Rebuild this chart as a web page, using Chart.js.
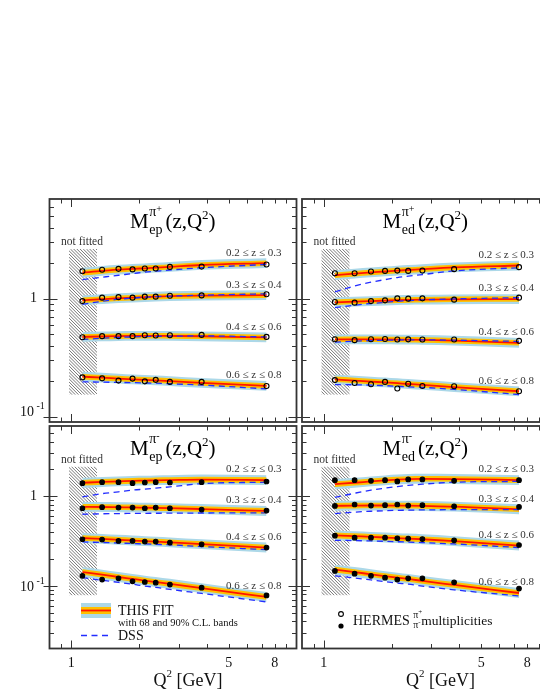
<!DOCTYPE html>
<html>
<head>
<meta charset="utf-8">
<script src="https://cdn.jsdelivr.net/npm/chart.js@4.4.1/dist/chart.umd.min.js"></script>
<style>
  html, body { margin: 0; padding: 0; background: #fff; overflow: hidden; }
  #wrap { position: relative; width: 540px; height: 699px; overflow: hidden; background: #fff; }
  #wrap canvas { position: absolute; left: 0; top: 0; }
</style>
</head>
<body>
<div id="wrap">
  <canvas id="epPlus" width="560" height="699"></canvas>
  <canvas id="edPlus" width="560" height="699"></canvas>
  <canvas id="epMinus" width="560" height="699"></canvas>
  <canvas id="edMinus" width="560" height="699"></canvas>
</div>
<script>
'use strict';

// Q^2 of the HERMES bins (GeV^2)
let qBins = [1.12, 1.37, 1.62, 1.87, 2.12, 2.37, 2.74, 3.79, 7.36];
let zBins = ['0.2 \u2264 z \u2264 0.3', '0.3 \u2264 z \u2264 0.4', '0.4 \u2264 z \u2264 0.6', '0.6 \u2264 z \u2264 0.8'];

// axis ticks
let xTicks = [0.9, 1, 2, 3, 4, 5, 6, 7, 8, 9];
let xTickLabels = [1, 5, 8];
let yTicksTop = [0.09, 0.1, 0.2, 0.3, 0.4, 0.5, 0.6, 0.7, 0.8, 0.9, 1, 2, 3, 4, 5, 6, 7];
let yTicksBottom = [0.02, 0.03, 0.04, 0.05, 0.06, 0.07, 0.08, 0.09, 0.1, 0.2, 0.3, 0.4, 0.5, 0.6, 0.7, 0.8, 0.9, 1, 2, 3, 4, 5, 6];
let yMajor = [0.1, 1];

// region excluded from the fit
let notFittedQ = [0.977, 1.3];
let notFittedTop = [0.153, 2.64];
let notFittedBottom = [0.078, 2.12];

// relative width of the 68% and 90% C.L. bands
let bandTop = [0.055, 0.10];
let bandBottom = [0.075, 0.135];

// proton, pi+
let epPlusData = [
  [1.71, 1.76, 1.79, 1.77, 1.80, 1.80, 1.86, 1.87, 1.95],
  [0.954, 1.02, 1.03, 1.02, 1.04, 1.04, 1.06, 1.066, 1.09],
  [0.471, 0.481, 0.481, 0.481, 0.490, 0.487, 0.490, 0.493, 0.474],
  [0.215, 0.211, 0.202, 0.210, 0.199, 0.205, 0.197, 0.197, 0.182]
];
let epPlusFit = [
  [1.66, 1.72, 1.76, 1.79, 1.81, 1.83, 1.86, 1.93, 2.00],
  [0.968, 0.99, 1.01, 1.02, 1.03, 1.04, 1.05, 1.06, 1.07],
  [0.474, 0.478, 0.481, 0.483, 0.484, 0.484, 0.483, 0.480, 0.469],
  [0.218, 0.214, 0.210, 0.207, 0.205, 0.203, 0.200, 0.193, 0.182]
];
let epPlusDss = [
  [1.45, 1.52, 1.58, 1.63, 1.68, 1.71, 1.75, 1.83, 1.95],
  [0.895, 0.95, 0.99, 1.01, 1.03, 1.04, 1.05, 1.07, 1.10],
  [0.451, 0.462, 0.469, 0.474, 0.477, 0.479, 0.481, 0.483, 0.474],
  [0.197, 0.196, 0.195, 0.194, 0.193, 0.192, 0.190, 0.185, 0.172]
];

// deuteron, pi+
let edPlusData = [
  [1.644, 1.644, 1.70, 1.72, 1.73, 1.72, 1.73, 1.78, 1.85],
  [0.936, 0.925, 0.954, 0.968, 1.006, 1.0, 1.006, 0.981, 1.02],
  [0.453, 0.445, 0.453, 0.455, 0.451, 0.452, 0.450, 0.451, 0.439],
  [0.204, 0.193, 0.188, 0.197, 0.173, 0.190, 0.182, 0.181, 0.164]
];
let edPlusFit = [
  [1.58, 1.63, 1.67, 1.70, 1.73, 1.75, 1.78, 1.84, 1.91],
  [0.931, 0.945, 0.955, 0.963, 0.970, 0.975, 0.980, 0.988, 0.992],
  [0.451, 0.452, 0.452, 0.451, 0.450, 0.449, 0.447, 0.440, 0.422],
  [0.207, 0.202, 0.198, 0.195, 0.192, 0.189, 0.186, 0.178, 0.164]
];
let edPlusDss = [
  [1.14, 1.28, 1.38, 1.45, 1.51, 1.55, 1.60, 1.72, 1.83],
  [0.84, 0.88, 0.91, 0.93, 0.95, 0.96, 0.975, 0.995, 1.02],
  [0.428, 0.436, 0.441, 0.444, 0.446, 0.447, 0.447, 0.445, 0.434],
  [0.187, 0.186, 0.185, 0.183, 0.181, 0.179, 0.177, 0.170, 0.154]
];

// proton, pi-
let epMinusData = [
  [1.386, 1.42, 1.42, 1.386, 1.41, 1.42, 1.41, 1.42, 1.447],
  [0.729, 0.748, 0.742, 0.742, 0.729, 0.742, 0.729, 0.705, 0.687],
  [0.329, 0.326, 0.315, 0.315, 0.310, 0.310, 0.302, 0.289, 0.266],
  [0.129, 0.117, 0.121, 0.112, 0.110, 0.108, 0.103, 0.095, 0.078]
];
let epMinusFit = [
  [1.40, 1.43, 1.45, 1.47, 1.48, 1.49, 1.50, 1.52, 1.50],
  [0.754, 0.752, 0.748, 0.745, 0.740, 0.736, 0.730, 0.714, 0.680],
  [0.340, 0.332, 0.325, 0.319, 0.314, 0.310, 0.304, 0.290, 0.266],
  [0.142, 0.133, 0.125, 0.119, 0.114, 0.110, 0.105, 0.094, 0.075]
];
let epMinusDss = [
  [0.975, 1.06, 1.11, 1.16, 1.19, 1.22, 1.26, 1.37, 1.42],
  [0.625, 0.632, 0.636, 0.638, 0.640, 0.641, 0.642, 0.645, 0.646],
  [0.307, 0.303, 0.299, 0.295, 0.292, 0.289, 0.285, 0.273, 0.252],
  [0.123, 0.115, 0.109, 0.104, 0.099, 0.096, 0.091, 0.082, 0.066]
];

// deuteron, pi-
let edMinusData = [
  [1.497, 1.497, 1.47, 1.497, 1.45, 1.524, 1.524, 1.47, 1.497],
  [0.773, 0.802, 0.781, 0.788, 0.802, 0.781, 0.788, 0.767, 0.754],
  [0.361, 0.343, 0.343, 0.343, 0.337, 0.335, 0.331, 0.320, 0.284],
  [0.146, 0.136, 0.129, 0.123, 0.117, 0.121, 0.121, 0.109, 0.093]
];
let edMinusFit = [
  [1.35, 1.40, 1.45, 1.49, 1.52, 1.54, 1.55, 1.54, 1.50],
  [0.775, 0.780, 0.782, 0.782, 0.780, 0.778, 0.773, 0.760, 0.710],
  [0.364, 0.356, 0.350, 0.344, 0.339, 0.335, 0.329, 0.314, 0.280],
  [0.151, 0.142, 0.134, 0.128, 0.123, 0.119, 0.113, 0.102, 0.083]
];
let edMinusDss = [
  [0.96, 1.07, 1.16, 1.22, 1.27, 1.31, 1.35, 1.42, 1.45],
  [0.636, 0.66, 0.675, 0.684, 0.690, 0.694, 0.698, 0.703, 0.705],
  [0.320, 0.318, 0.315, 0.312, 0.309, 0.306, 0.302, 0.292, 0.266],
  [0.129, 0.122, 0.116, 0.111, 0.107, 0.104, 0.099, 0.090, 0.077]
];

// colours
let blueBand = 'rgb(172,216,232)';
let orangeBand = 'rgb(255,192,0)';
let fitRed = 'rgb(255,20,0)';
let dssBlue = 'rgb(35,45,255)';
let frameCol = '#333';

let canvasW = 560;
let canvasH = 699;

function serif(size) {
  return size + 'px "Liberation Serif", "DejaVu Serif", serif';
}

// draw text pieces one after another: [text, size, dy]
function drawParts(ctx, x, y, parts) {
  for (let p of parts) {
    ctx.font = serif(p[1]);
    ctx.fillText(p[0], x, y + (p[2] || 0));
    x += ctx.measureText(p[0]).width;
  }
  return x;
}

function line(ctx, x1, y1, x2, y2) {
  ctx.beginPath();
  ctx.moveTo(x1, y1);
  ctx.lineTo(x2, y2);
  ctx.stroke();
}

function drawTitle(ctx, x, y, charge, target) {
  ctx.fillStyle = '#000';
  ctx.textAlign = 'left';
  ctx.textBaseline = 'alphabetic';
  ctx.font = serif(21);
  ctx.fillText('M', x, y);
  let sx = x + ctx.measureText('M').width + 0.5;
  ctx.font = serif(14);
  ctx.fillText('\u03c0', sx, y - 12);
  let pw = ctx.measureText('\u03c0').width;
  ctx.font = serif(10);
  ctx.fillText(charge, sx + pw, y - 16);
  let cw = ctx.measureText(charge).width;
  ctx.font = serif(14);
  ctx.fillText(target, sx, y + 6);
  let tw = ctx.measureText(target).width;
  drawParts(ctx, sx + Math.max(pw + cw, tw) + 3, y, [['(z,Q', 21], ['2', 13, -9], [')', 21]]);
}

let panelDecor = {
  id: 'panelDecor',
  beforeDatasetsDraw(chart, args, opts) {
    let ctx = chart.ctx;
    let x = chart.scales.x;
    let y = chart.scales.y;
    let x0 = x.getPixelForValue(notFittedQ[0]);
    let x1 = x.getPixelForValue(notFittedQ[1]);
    let y0 = y.getPixelForValue(opts.hatch[1]);
    let y1 = y.getPixelForValue(opts.hatch[0]);
    ctx.save();
    ctx.beginPath();
    ctx.rect(x0, y0, x1 - x0, y1 - y0);
    ctx.clip();
    ctx.strokeStyle = '#555';
    ctx.lineWidth = 0.8;
    let h = y1 - y0;
    for (let k = x0 - h; k < x1; k += 3.2) {
      line(ctx, k, y0, k + h, y1);
    }
    ctx.restore();

    ctx.save();
    ctx.fillStyle = '#333';
    ctx.font = serif(11.5);
    ctx.textAlign = 'center';
    ctx.fillText('not fitted', (x0 + x1) / 2 - 1, y0 - 3.5);
    ctx.restore();
  },
  afterDraw(chart, args, opts) {
    let ctx = chart.ctx;
    let a = chart.chartArea;
    let x = chart.scales.x;
    let y = chart.scales.y;
    ctx.save();

    // inward ticks on all four sides
    ctx.strokeStyle = frameCol;
    ctx.lineWidth = 1;
    for (let v of xTicks) {
      let px = Math.round(x.getPixelForValue(v)) + 0.5;
      let len = v === 1 ? 8 : 4.5;
      line(ctx, px, a.bottom, px, a.bottom - len);
      line(ctx, px, a.top, px, a.top + len);
    }
    for (let v of opts.yTicks) {
      let py = Math.round(y.getPixelForValue(v)) + 0.5;
      if (py < a.top + 1 || py > a.bottom - 1) continue;
      let major = yMajor.includes(v);
      let len = major ? 8 : 4.5;
      line(ctx, a.left - (major ? 6 : 0), py, a.left + len, py);
      line(ctx, a.right - len, py, a.right, py);
    }

    // frame
    ctx.lineWidth = 1.8;
    ctx.strokeRect(a.left, a.top, a.right - a.left, a.bottom - a.top);

    // axis labels
    ctx.fillStyle = '#111';
    if (opts.yLabels) {
      ctx.font = serif(14);
      ctx.textAlign = 'right';
      ctx.textBaseline = 'middle';
      ctx.fillText('1', 37, y.getPixelForValue(1));
      ctx.textAlign = 'left';
      ctx.textBaseline = 'alphabetic';
      let py = y.getPixelForValue(0.1) + opts.tenShift;
      drawParts(ctx, 20, py, [['10', 14], [' -1', 10, -7]]);
    }
    if (opts.xLabels) {
      ctx.font = serif(14);
      ctx.textAlign = 'center';
      ctx.textBaseline = 'alphabetic';
      for (let v of xTickLabels) {
        ctx.fillText(String(v), x.getPixelForValue(v), 667);
      }
      ctx.textAlign = 'left';
      drawParts(ctx, a.left + 104, 686, [['Q', 18], ['2', 11, -9], [' [GeV]', 18]]);
    }

    // title
    drawTitle(ctx, a.left + 80.5, a.top + 29, opts.charge, opts.target);

    // z-bin labels
    ctx.fillStyle = '#333';
    ctx.font = serif(11);
    ctx.textAlign = 'right';
    ctx.textBaseline = 'middle';
    for (let r = 0; r < zBins.length; r++) {
      let last = opts.fit[r][opts.fit[r].length - 1];
      ctx.fillText(zBins[r], a.right - 15, y.getPixelForValue(last) - 10.5);
    }

    // legends
    ctx.textAlign = 'left';
    ctx.textBaseline = 'alphabetic';
    ctx.fillStyle = '#111';
    if (opts.legend === 'fit') {
      ctx.fillStyle = blueBand;
      ctx.fillRect(81, 603, 30, 15);
      ctx.fillStyle = orangeBand;
      ctx.fillRect(81, 607, 30, 7);
      ctx.strokeStyle = fitRed;
      ctx.lineWidth = 1.8;
      line(ctx, 81, 610.5, 111, 610.5);
      ctx.strokeStyle = dssBlue;
      ctx.lineWidth = 1.3;
      ctx.setLineDash([6, 4.5]);
      line(ctx, 81, 635.5, 111, 635.5);
      ctx.setLineDash([]);
      ctx.fillStyle = '#111';
      ctx.font = serif(14);
      ctx.fillText('THIS FIT', 118, 615);
      ctx.font = serif(10.5);
      ctx.fillText('with 68 and 90% C.L. bands', 118, 626);
      ctx.font = serif(14);
      ctx.fillText('DSS', 118, 640);
    }
    if (opts.legend === 'data') {
      ctx.strokeStyle = '#000';
      ctx.lineWidth = 1.1;
      ctx.beginPath();
      ctx.arc(341, 614, 2.4, 0, Math.PI * 2);
      ctx.stroke();
      ctx.fillStyle = '#000';
      ctx.beginPath();
      ctx.arc(341, 626, 2.6, 0, Math.PI * 2);
      ctx.fill();
      ctx.fillStyle = '#111';
      let ex = drawParts(ctx, 353, 625, [['HERMES ', 14]]);
      ctx.font = serif(10);
      ctx.fillText('\u03c0', ex, 618);
      ctx.fillText('\u03c0', ex, 628);
      let pw = ctx.measureText('\u03c0').width;
      ctx.font = serif(7);
      ctx.fillText('+', ex + pw, 614);
      ctx.fillText('-', ex + pw, 624);
      drawParts(ctx, ex + pw + 3, 625, [['multiplicities', 13.5]]);
    }
    ctx.restore();
  }
};

function xy(vals) {
  return vals.map((v, i) => ({ x: qBins[i], y: v }));
}
function scaled(vals, f) {
  return vals.map((v, i) => ({ x: qBins[i], y: v * f }));
}

function buildDatasets(data, fit, dss, open, band) {
  let sets = [];
  let curve = {
    showLine: true, pointRadius: 0, cubicInterpolationMode: 'monotone',
    borderColor: 'rgba(0,0,0,0)', borderWidth: 1
  };
  for (let r = 0; r < data.length; r++) {
    sets.push(Object.assign({}, curve, { data: scaled(fit[r], 1 / (1 + band[1])), fill: false, order: 6 }));
    sets.push(Object.assign({}, curve, { data: scaled(fit[r], 1 + band[1]), fill: '-1', backgroundColor: blueBand, order: 6 }));
    sets.push(Object.assign({}, curve, { data: scaled(fit[r], 1 / (1 + band[0])), fill: false, order: 5 }));
    sets.push(Object.assign({}, curve, { data: scaled(fit[r], 1 + band[0]), fill: '-1', backgroundColor: orangeBand, order: 5 }));
    sets.push(Object.assign({}, curve, { data: xy(fit[r]), fill: false, borderColor: fitRed, borderWidth: 1.8, order: 3 }));
    sets.push(Object.assign({}, curve, { data: xy(dss[r]), fill: false, borderColor: dssBlue, borderWidth: 1.3, borderDash: [6, 4.5], order: 2 }));
    sets.push({
      data: xy(data[r]), showLine: false, fill: false, order: 1,
      pointRadius: open ? 2.5 : 2.3, pointBorderWidth: 1.1, pointBorderColor: '#000',
      pointBackgroundColor: open ? 'rgba(0,0,0,0)' : '#000'
    });
  }
  return sets;
}

function makePanel(id, area, yRange, data, fit, dss, decor) {
  let open = decor.charge === '+';
  let band = yRange[0] > 0.05 ? bandTop : bandBottom;
  return new Chart(document.getElementById(id), {
    type: 'line',
    data: { datasets: buildDatasets(data, fit, dss, open, band) },
    options: {
      responsive: false,
      animation: false,
      devicePixelRatio: 1,
      layout: {
        padding: { left: area[0], top: area[1], right: canvasW - area[2], bottom: canvasH - area[3] }
      },
      plugins: {
        legend: { display: false },
        tooltip: { enabled: false },
        panelDecor: Object.assign({ fit: fit }, decor)
      },
      scales: {
        x: { type: 'logarithmic', min: 0.8, max: 10, display: false },
        y: { type: 'logarithmic', min: yRange[0], max: yRange[1], display: false }
      }
    },
    plugins: [panelDecor]
  });
}

makePanel('epPlus', [49.5, 199, 296.5, 422], [0.09, 7], epPlusData, epPlusFit, epPlusDss,
  { charge: '+', target: 'ep', yTicks: yTicksTop, hatch: notFittedTop, yLabels: true, xLabels: false, tenShift: -1 });
makePanel('edPlus', [302, 199, 549, 422], [0.09, 7], edPlusData, edPlusFit, edPlusDss,
  { charge: '+', target: 'ed', yTicks: yTicksTop, hatch: notFittedTop, yLabels: false, xLabels: false });
makePanel('epMinus', [49.5, 426, 296.5, 648.5], [0.02, 6], epMinusData, epMinusFit, epMinusDss,
  { charge: '-', target: 'ep', yTicks: yTicksBottom, hatch: notFittedBottom, yLabels: true, xLabels: true, tenShift: 5, legend: 'fit' });
makePanel('edMinus', [302, 426, 549, 648.5], [0.02, 6], edMinusData, edMinusFit, edMinusDss,
  { charge: '-', target: 'ed', yTicks: yTicksBottom, hatch: notFittedBottom, yLabels: false, xLabels: true, legend: 'data' });
</script>
</body>
</html>
